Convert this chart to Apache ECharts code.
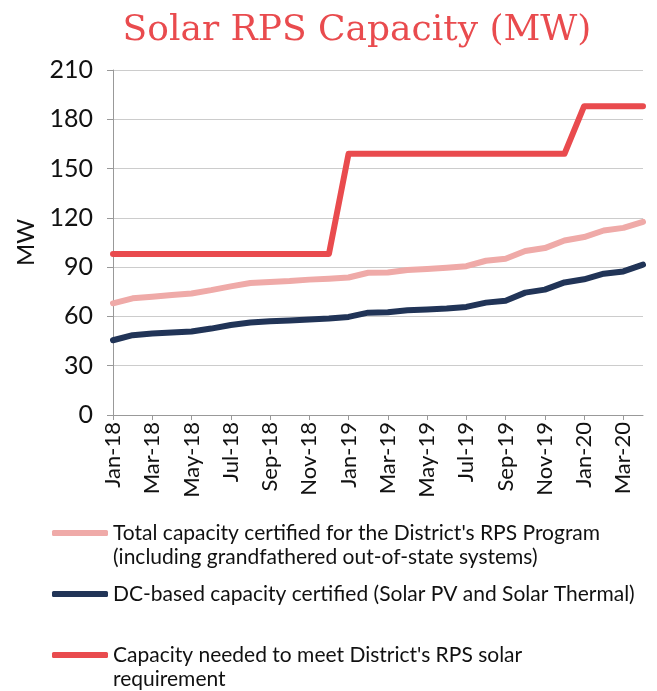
<!DOCTYPE html>
<html>
<head>
<meta charset="utf-8">
<script src="https://cdn.jsdelivr.net/npm/echarts@6/dist/echarts.min.js"></script>
<style>
  html, body { margin: 0; padding: 0; background: #fff; }
  #chart { width: 657px; height: 691px; }
</style>
</head>
<body>
<div id="chart"></div>
<script>
const months = [
  'Jan-18', 'Feb-18', 'Mar-18', 'Apr-18', 'May-18', 'Jun-18', 'Jul-18', 'Aug-18', 'Sep-18', 'Oct-18', 'Nov-18', 'Dec-18',
  'Jan-19', 'Feb-19', 'Mar-19', 'Apr-19', 'May-19', 'Jun-19', 'Jul-19', 'Aug-19', 'Sep-19', 'Oct-19', 'Nov-19', 'Dec-19',
  'Jan-20', 'Feb-20', 'Mar-20', 'Apr-20'
];
const totalCertified = [
  68, 71, 72, 73, 74, 76, 78.3, 80.3, 81, 81.5, 82.4, 83,
  83.7, 86.6, 86.8, 88.2, 88.8, 89.6, 90.6, 93.9, 95.1, 99.8, 101.6, 106.2,
  108.3, 112.3, 113.9, 117.6
];
const dcCertified = [
  45.5, 48.6, 49.6, 50.2, 50.8, 52.6, 54.8, 56.3, 57.1, 57.5, 58.1, 58.7,
  59.7, 62.3, 62.5, 63.7, 64.2, 64.8, 65.8, 68.4, 69.6, 74.5, 76.3, 80.7,
  82.6, 86, 87.4, 91.5
];
const needed = [
  98, 98, 98, 98, 98, 98, 98, 98, 98, 98, 98, 98,
  159, 159, 159, 159, 159, 159, 159, 159, 159, 159, 159, 159,
  188, 188, 188, 188
];
const yTicks = { min: 0, max: 210, interval: 30 };

const names = [
  "Total capacity certified for the District's RPS Program\n(including grandfathered out-of-state systems)",
  'DC-based capacity certified (Solar PV and Solar Thermal)',
  "Capacity needed to meet District's RPS solar\nrequirement"
];
const colors = ['#EFAAA8', '#213457', '#E94B4E'];

const font = 'Lato, "Open Sans", sans-serif';

// each legend sits on its own; a blank first line keeps the icon level with the first text line
function legendAt(name, top, twoLines) {
  return {
    data: [name],
    left: 52,
    top: top,
    padding: 0,
    icon: 'roundRect',
    itemWidth: 56,
    itemHeight: 6,
    selectedMode: false,
    formatter: n => (twoLines ? '\n' + n : n),
    textStyle: {
      fontFamily: font,
      fontSize: 21,
      color: '#111',
      lineHeight: 24
    }
  };
}

const chart = echarts.init(document.getElementById('chart'));
chart.setOption({
  animation: false,
  title: {
    text: 'Solar RPS Capacity (MW)',
    left: 352,
    textAlign: 'center',
    top: 8,
    textStyle: {
      fontFamily: '"DejaVu Serif", serif',
      fontWeight: 'normal',
      fontSize: 36,
      color: '#E94B4E'
    }
  },
  legend: [
    legendAt(names[0], 497, true),
    legendAt(names[1], 582, false),
    legendAt(names[2], 619, true)
  ],
  grid: { left: 113, right: 14, top: 70, bottom: 276 },
  xAxis: {
    type: 'category',
    data: months,
    boundaryGap: false,
    axisLine: { lineStyle: { color: '#999' } },
    axisTick: { interval: 1, length: 5, lineStyle: { color: '#999' } },
    axisLabel: {
      interval: 1,
      rotate: 90,
      margin: 7,
      fontFamily: font,
      fontSize: 22,
      color: '#111'
    }
  },
  yAxis: {
    type: 'value',
    min: yTicks.min,
    max: yTicks.max,
    interval: yTicks.interval,
    name: 'MW',
    nameLocation: 'middle',
    nameGap: 73,
    nameTextStyle: { fontFamily: font, fontSize: 24, color: '#111' },
    axisLine: { show: true, lineStyle: { color: '#999' } },
    axisTick: { show: true, length: 6, lineStyle: { color: '#999' } },
    axisLabel: { margin: 20, fontFamily: font, fontSize: 25, color: '#111' },
    splitLine: { lineStyle: { color: '#ccc' } }
  },
  series: [
    { name: names[0], data: totalCertified, color: colors[0] },
    { name: names[1], data: dcCertified, color: colors[1] },
    { name: names[2], data: needed, color: colors[2] }
  ].map(s => ({
    type: 'line',
    name: s.name,
    data: s.data,
    showSymbol: false,
    itemStyle: { color: s.color },
    lineStyle: { width: 6, color: s.color, cap: 'round', join: 'round' }
  }))
});
</script>
</body>
</html>
